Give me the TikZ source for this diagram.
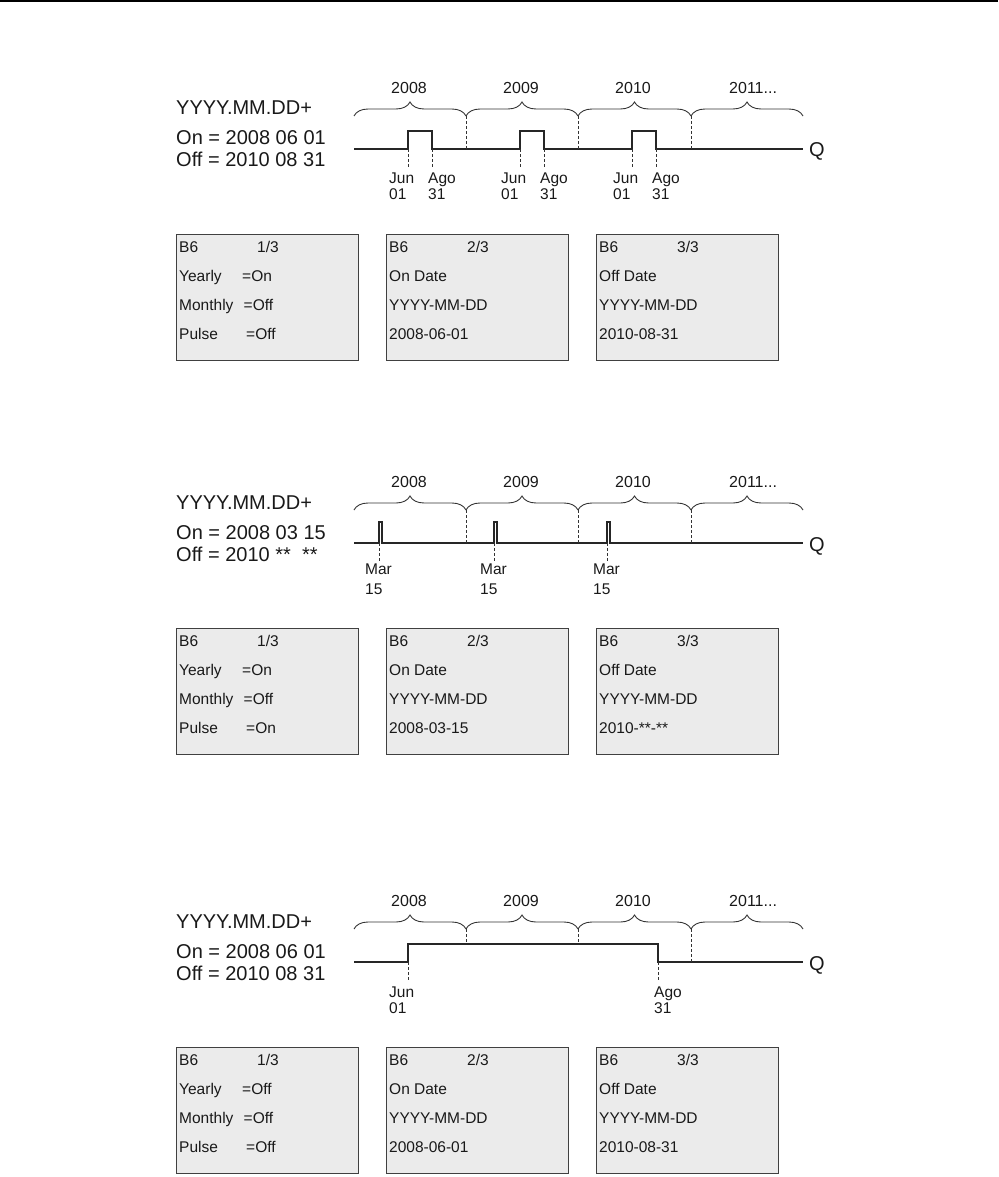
\documentclass[tikz,border=0pt]{standalone}
\usepackage{fontspec}
\setmainfont{Liberation Sans}
\usetikzlibrary{decorations.pathreplacing,positioning}

\tikzset{
 sig/.style={line width=2.4pt,draw=black!85,line join=miter},
 yearbrace/.style={decorate,decoration={brace,amplitude=14pt},line width=0.9pt,draw=black!80},
 guide/.style={dash pattern=on 3pt off 2pt,line width=0.9pt,draw=black!80},
 lcd/.style={draw=black!75,fill=black!8,line width=1.4pt,minimum width=182pt,
  minimum height=126pt,anchor=north west,inner sep=0pt},
 big/.style={font=\fontsize{20}{24}\selectfont,anchor=base west,inner sep=0pt,text=black!90},
 small/.style={font=\fontsize{15.5}{18}\selectfont,anchor=base west,inner sep=0pt,text=black!90},
 yr/.style={font=\fontsize{16}{19}\selectfont,anchor=base,inner sep=0pt,text=black!90},
 day/.style={font=\fontsize{15.5}{18}\selectfont,anchor=base west,inner sep=0pt,text=black!90}
}

% year braces, year labels and Q
\newcommand{\yearaxis}[1]{%
 \foreach \xa/\xb in {354/466,466/578,578/691,691/803}
  \draw[yearbrace] (\xa,116) -- (\xb,116);
 \node[yr] (#1y1) at (409,93.7) {2008};
 \node[yr] (#1y2) at (521,93.7) {2009};
 \node[yr] (#1y3) at (633,93.7) {2010};
 \node[yr,anchor=base west] (#1y4) at (729,93.7) {2011...};
 \node[big] (#1q) at (809,157) {Q};
}

% parameter text left of the time line
\newcommand{\datetext}[3]{%
 \node[big] (#1fmt) at (176,115) {YYYY.MM.DD+};
 \node[big] (#1on) at (176,145) {On = #2};
 \node[big] (#1off) at (176,167) {Off = #3};
}

% the three display screens
\newcommand{\lcdrow}[5]{%
 \node[lcd] (#1b1) at (176,234) {};
 \node[lcd] (#1b2) at (386,234) {};
 \node[lcd] (#1b3) at (596,234) {};
 \foreach \x/\n in {179/1,389/2,599/3} {
  \node[small] (#1h\n) at (\x,252) {B6};
  \node[small] (#1p\n) at (\x+78,252) {\n/3};
 }
 \node[small] (#1r1) at (179,281.5) {Yearly};
 \node[small] (#1v1) at (242,281.5) {=#2};
 \node[small] (#1r2) at (179,310.5) {Monthly};
 \node[small] (#1v2) at (243.5,310.5) {=Off};
 \node[small] (#1r3) at (179,339.5) {Pulse};
 \node[small] (#1v3) at (246,339.5) {=#3};
 \node[small] (#1d1) at (389,281.5) {On Date};
 \node[small] (#1d2) at (389,310.5) {YYYY-MM-DD};
 \node[small] (#1d3) at (389,339.5) {#4};
 \node[small] (#1e1) at (599,281.5) {Off Date};
 \node[small] (#1e2) at (599,310.5) {YYYY-MM-DD};
 \node[small] (#1e3) at (599,339.5) {#5};
}

\begin{document}
\begin{tikzpicture}[x=1pt,y=-1pt]
 \useasboundingbox (0,0) rectangle (998,1177);
 \draw[line width=2pt] (0,1) -- (998,1);

 % yearly, pulse off
 \yearaxis{a}
 \datetext{a}{2008 06 01}{2010 08 31}
 \draw[sig] (354,149) -- (408,149) -- (408,131) -- (432,131) -- (432,149)
  -- (520,149) -- (520,131) -- (544,131) -- (544,149)
  -- (632,149) -- (632,131) -- (656,131) -- (656,149) -- (803,149);
 \foreach \x in {466,578,691} \draw[guide] (\x,116) -- (\x,149);
 \foreach \x/\n in {408/1,520/2,632/3} {
  \draw[guide] (\x,149) -- (\x,168);
  \draw[guide] (\x+24,149) -- (\x+24,168);
  \node[day] (ajun\n) at (\x-19,184) {Jun};
  \node[day] (ajd\n) at (\x-19,200) {01};
  \node[day] (aago\n) at (\x+20,184) {Ago};
  \node[day] (aad\n) at (\x+20,200) {31};
 }
 \lcdrow{a}{On}{Off}{2008-06-01}{2010-08-31}

 % yearly, pulse on
 \begin{scope}[yshift=-394pt]
 \yearaxis{b}
 \datetext{b}{2008 03 15}{2010 ** \ **}
 \draw[sig] (354,149) -- (379,149) -- (379,128) -- (382,128) -- (382,149)
  -- (494,149) -- (494,128) -- (497,128) -- (497,149)
  -- (607,149) -- (607,128) -- (610,128) -- (610,149) -- (803,149);
 \foreach \x in {466,578,691} \draw[guide] (\x,116) -- (\x,149);
 \foreach \x/\n in {379/1,494/2,607/3} {
  \draw[guide] (\x,149) -- (\x,167);
  \node[day] (bmar\n) at (\x-14,180) {Mar};
  \node[day] (bmd\n) at (\x-14,200) {15};
 }
 \lcdrow{b}{On}{On}{2008-03-15}{2010-**-**}
 \end{scope}

 % yearly off, one long interval
 \begin{scope}[yshift=-813pt]
 \yearaxis{c}
 \datetext{c}{2008 06 01}{2010 08 31}
 \draw[sig] (354,149) -- (408,149) -- (408,131) -- (658,131) -- (658,149) -- (803,149);
 \draw[guide] (466,116) -- (466,131);
 \draw[guide] (578,116) -- (578,131);
 \draw[guide] (691,116) -- (691,149);
 \draw[guide] (408,149) -- (408,168);
 \draw[guide] (658,149) -- (658,168);
 \node[day] (cjun) at (389,184) {Jun};
 \node[day] (cjd) at (389,200) {01};
 \node[day] (cago) at (654,184) {Ago};
 \node[day] (cad) at (654,200) {31};
 \lcdrow{c}{Off}{Off}{2008-06-01}{2010-08-31}
 \end{scope}
\end{tikzpicture}
\end{document}
